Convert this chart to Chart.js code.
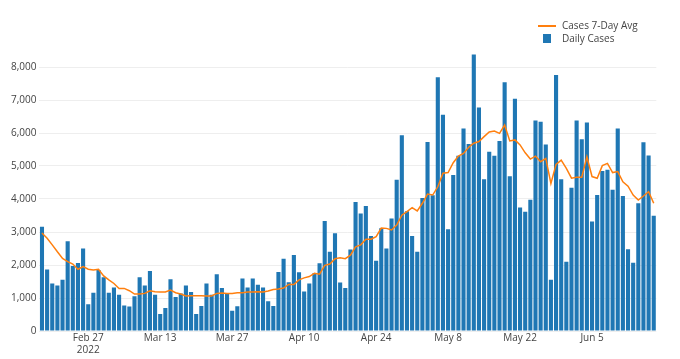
<!DOCTYPE html>
<html>
<head>
<meta charset="utf-8">
<script src="https://cdn.jsdelivr.net/npm/chart.js@4.4.1/dist/chart.umd.min.js"></script>
<style>
  html, body { margin: 0; padding: 0; background: #fff; }
  #wrap { position: relative; width: 680px; height: 359px; }
  #legend { position: absolute; left: 537px; top: 19px; font-family: "Open Sans", sans-serif; font-size: 10px; color: #444; }
  .item { position: relative; height: 13px; line-height: 13px; padding-left: 25px; white-space: nowrap; }
  .sw-line { position: absolute; left: 1px; top: 6px; width: 18px; height: 2px; background: #ff7f0e; }
  .sw-box { position: absolute; left: 6px; top: 2px; width: 8px; height: 9px; background: #1f77b4; }
</style>
</head>
<body>
<div id="wrap">
  <canvas id="c" width="680" height="359"></canvas>
  <div id="legend">
    <div class="item"><span class="sw-line"></span>Cases 7-Day Avg</div>
    <div class="item"><span class="sw-box"></span>Daily Cases</div>
  </div>
</div>
<script>
const dates = [
  "Feb 18","Feb 19","Feb 20","Feb 21","Feb 22","Feb 23","Feb 24","Feb 25","Feb 26","Feb 27","Feb 28",
  "Mar 1","Mar 2","Mar 3","Mar 4","Mar 5","Mar 6","Mar 7","Mar 8","Mar 9","Mar 10","Mar 11","Mar 12","Mar 13","Mar 14","Mar 15","Mar 16","Mar 17","Mar 18","Mar 19","Mar 20","Mar 21","Mar 22","Mar 23","Mar 24","Mar 25","Mar 26","Mar 27","Mar 28","Mar 29","Mar 30","Mar 31",
  "Apr 1","Apr 2","Apr 3","Apr 4","Apr 5","Apr 6","Apr 7","Apr 8","Apr 9","Apr 10","Apr 11","Apr 12","Apr 13","Apr 14","Apr 15","Apr 16","Apr 17","Apr 18","Apr 19","Apr 20","Apr 21","Apr 22","Apr 23","Apr 24","Apr 25","Apr 26","Apr 27","Apr 28","Apr 29","Apr 30",
  "May 1","May 2","May 3","May 4","May 5","May 6","May 7","May 8","May 9","May 10","May 11","May 12","May 13","May 14","May 15","May 16","May 17","May 18","May 19","May 20","May 21","May 22","May 23","May 24","May 25","May 26","May 27","May 28","May 29","May 30","May 31",
  "Jun 1","Jun 2","Jun 3","Jun 4","Jun 5","Jun 6","Jun 7","Jun 8","Jun 9","Jun 10","Jun 11","Jun 12","Jun 13","Jun 14","Jun 15","Jun 16","Jun 17"
];

const dailyCases = [
  3160,1860,1440,1380,1550,2720,1970,2060,2500,810,
  1160,1850,1630,1160,1320,1100,770,740,1050,1630,
  1380,1820,1100,515,700,1570,1030,1140,1380,1180,
  515,760,1440,1100,1720,1300,1140,610,750,1590,
  1320,1590,1400,1320,900,760,1790,2190,1480,2300,
  1780,1200,1440,1750,2050,3330,2400,2960,1470,1300,
  2470,3910,3560,3790,2880,2130,3110,2500,3410,4580,
  5930,3630,2880,2400,4030,5730,4110,7690,6550,3080,
  4730,5310,6140,5670,8380,6770,4600,5430,5310,5760,
  7540,4690,7040,3740,3610,3980,6380,6340,5650,1550,
  7760,4600,2100,4340,6380,5810,6320,3320,4120,4850,
  4890,4280,6140,4090,2480,2070,3870,5720,5320,3490
];

const avg7Day = [
  2970,2810,2610,2400,2200,2100,2030,1870,1950,1870,
  1850,1870,1670,1550,1440,1290,1290,1220,1120,1120,
  1140,1220,1190,1180,1180,1240,1160,1120,1060,1070,
  1070,1070,1060,1060,1140,1150,1140,1140,1160,1160,
  1180,1180,1190,1180,1210,1260,1270,1300,1410,1410,
  1550,1610,1650,1750,1720,1990,2030,2190,2220,2190,
  2300,2550,2610,2780,2780,2860,3120,3110,3060,3210,
  3510,3620,3740,3640,3870,4150,4120,4370,4780,4800,
  5100,5300,5380,5570,5690,5740,5890,6030,6060,5990,
  6240,5760,5790,5640,5400,5210,5300,5130,5230,4470,
  5050,5180,4930,4630,4660,4660,5280,4680,4630,5010,
  5080,4800,4830,4520,4390,4120,3970,4090,4220,3870
];

const xTickLabels = ["Feb 27","Mar 13","Mar 27","Apr 10","Apr 24","May 8","May 22","Jun 5"];
const yearLabel = "2022";
const yTickValues = [0,1000,2000,3000,4000,5000,6000,7000,8000];

const font = { family: "'Open Sans', sans-serif", size: 10 };

new Chart(document.getElementById('c'), {
  data: {
    labels: dates,
    datasets: [
      {
        type: 'line',
        label: 'Cases 7-Day Avg',
        data: avg7Day,
        borderColor: '#ff7f0e',
        backgroundColor: '#ff7f0e',
        borderWidth: 1.5,
        pointRadius: 0,
        tension: 0,
        order: 0
      },
      {
        type: 'bar',
        label: 'Daily Cases',
        data: dailyCases,
        backgroundColor: '#1f77b4',
        borderWidth: 0,
        barPercentage: 0.8,
        categoryPercentage: 1.0,
        order: 1
      }
    ]
  },
  options: {
    responsive: false,
    animation: false,
    layout: { padding: { left: 0, right: 23.7, top: 40.6, bottom: 0 } },
    plugins: { legend: { display: false }, tooltip: { enabled: false } },
    scales: {
      x: {
        type: 'category',
        grid: { display: false, drawTicks: false },
        border: { display: false },
        afterFit(scale) { scale.height = 28; },
        ticks: {
          autoSkip: false,
          maxRotation: 0,
          minRotation: 0,
          padding: 1,
          color: '#444',
          font: font,
          callback(value) {
            const lab = this.getLabelForValue(value);
            if (!xTickLabels.includes(lab)) return null;
            if (lab === xTickLabels[0]) return [lab, yearLabel];
            return lab;
          }
        }
      },
      y: {
        min: 0,
        max: 8800,
        grid: { color: '#eeeeee', lineWidth: 1, drawTicks: false },
        border: { display: false },
        afterFit(scale) { scale.width = 39.4; },
        afterBuildTicks(scale) { scale.ticks = yTickValues.map(v => ({ value: v })); },
        ticks: {
          padding: 3,
          color: '#444',
          font: font,
          callback(v) { return v.toLocaleString('en-US'); }
        }
      }
    }
  }
});
</script>
</body>
</html>
